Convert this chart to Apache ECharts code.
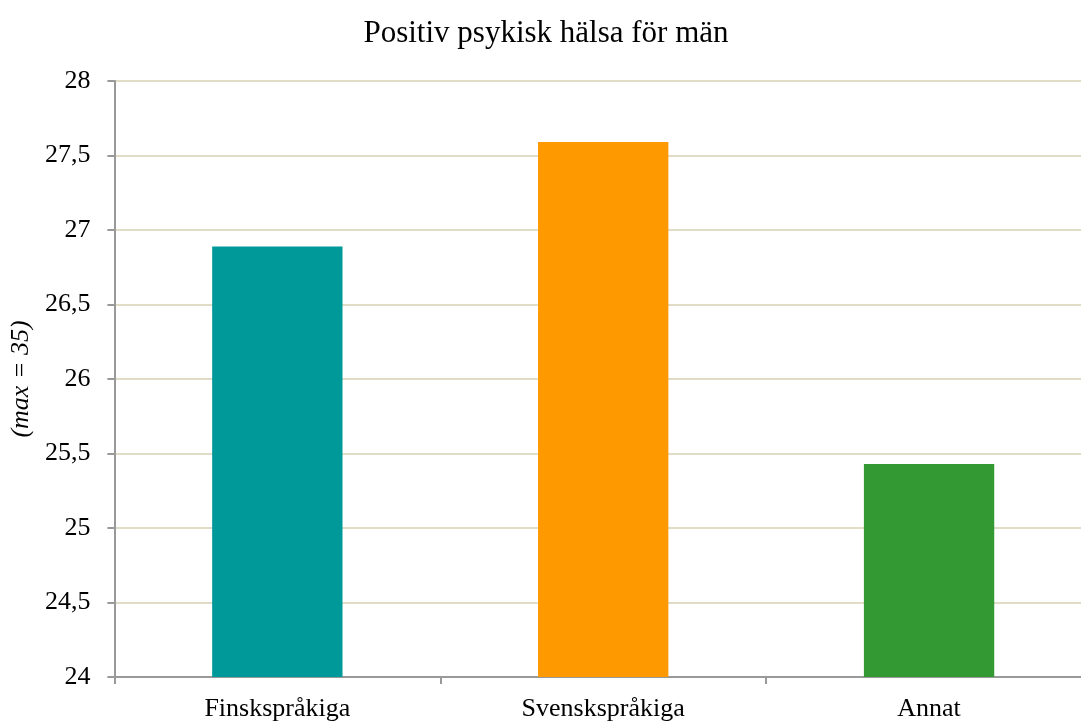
<!DOCTYPE html>
<html>
<head>
<meta charset="utf-8">
<script src="https://cdn.jsdelivr.net/npm/echarts@6/dist/echarts.min.js"></script>
<style>
  html, body { margin: 0; padding: 0; background: #fff; overflow: hidden; }
  #chart { width: 1092px; height: 722px; }
</style>
</head>
<body>
<div id="chart"></div>
<script>
// Mean score of positive mental health among men, by language group
const categories = ['Finskspråkiga', 'Svenskspråkiga', 'Annat'];
const values = [26.89, 27.59, 25.43];
const barColors = ['#009999', '#FF9900', '#339933'];

const FONT = '"Liberation Serif", "Times New Roman", serif';

const chart = echarts.init(document.getElementById('chart'));
chart.setOption({
  animation: false,
  backgroundColor: '#ffffff',
  title: {
    text: 'Positiv psykisk hälsa för män',
    left: 'center',
    top: 13,
    textStyle: { fontFamily: FONT, fontSize: 31, fontWeight: 'normal', color: '#000' }
  },
  grid: { left: 114, right: 0, top: 81, bottom: 44, containLabel: false },
  xAxis: {
    type: 'category',
    data: categories,
    axisLine: { lineStyle: { color: '#999999', width: 2 } },
    axisTick: { show: true, length: 7, alignWithLabel: false, lineStyle: { color: '#999999', width: 2 } },
    axisLabel: { fontFamily: FONT, fontSize: 26, color: '#000', margin: 19 }
  },
  yAxis: {
    type: 'value',
    min: 24,
    max: 28,
    interval: 0.5,
    name: '(max = 35)',
    nameLocation: 'middle',
    nameGap: 80,
    nameTextStyle: { fontFamily: FONT, fontSize: 26, fontStyle: 'italic', color: '#000' },
    axisLine: { show: true, lineStyle: { color: '#999999', width: 2 } },
    axisTick: { show: true, length: 7, lineStyle: { color: '#999999', width: 2 } },
    axisLabel: {
      fontFamily: FONT, fontSize: 26, color: '#000', margin: 24,
      formatter: v => String(v).replace('.', ',')
    },
    splitLine: { show: true, lineStyle: { color: '#E0DCC6', width: 2 } }
  },
  series: [{
    type: 'bar',
    barWidth: '40%',
    data: values.map((v, i) => ({ value: v, itemStyle: { color: barColors[i] } }))
  }]
});
</script>
</body>
</html>
